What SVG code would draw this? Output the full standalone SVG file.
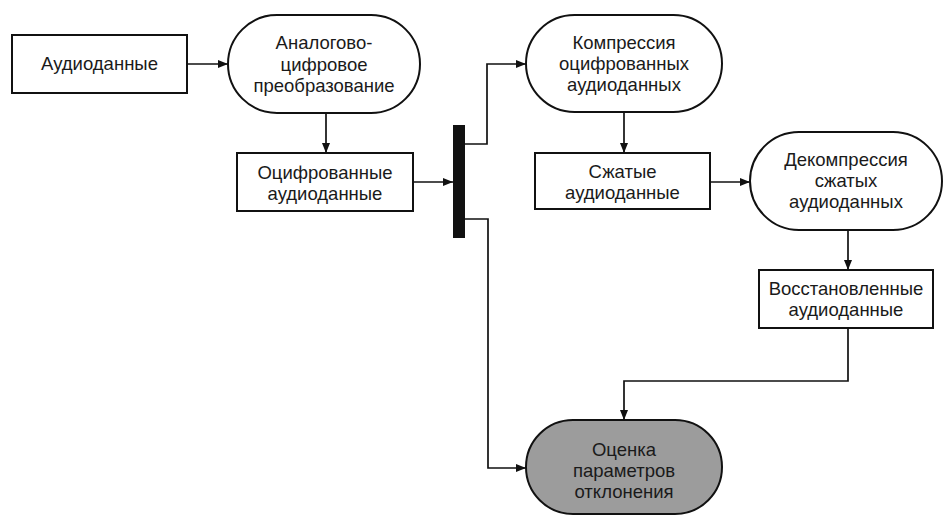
<svg xmlns="http://www.w3.org/2000/svg" width="948" height="516" viewBox="0 0 948 516">
<defs>
<marker id="ah" viewBox="0 0 10 10" refX="10" refY="5" markerWidth="10" markerHeight="10" markerUnits="userSpaceOnUse" orient="auto">
<path d="M0,1 L10,5 L0,9 Z" fill="#111"/>
</marker>
<style>
.box{fill:#fff;stroke:#111;stroke-width:2}
.gray{fill:#9c9c9c;stroke:#111;stroke-width:2}
.t{font-family:"Liberation Sans",Arial,sans-serif;font-size:18.5px;fill:#1a1a1a;text-anchor:middle}
.c{fill:none;stroke:#111;stroke-width:1.7;marker-end:url(#ah)}
</style>
</defs>
<rect width="948" height="516" fill="#fff"/>
<g id="audio">
<rect class="box" x="12" y="35" width="175" height="58"/>
<text class="t" x="99.5" y="70">Аудиоданные</text>
</g>
<g id="adc">
<rect class="box" x="228" y="15" width="192" height="98" rx="49" ry="49"/>
<text class="t" x="324" y="49">Аналогово-</text>
<text class="t" x="324" y="71">цифровое</text>
<text class="t" x="324" y="92">преобразование</text>
</g>
<g id="digital">
<rect class="box" x="237" y="153" width="176" height="58"/>
<text class="t" x="325" y="179">Оцифрованные</text>
<text class="t" x="325" y="200">аудиоданные</text>
</g>
<g id="splitter">
<rect x="453" y="125" width="12" height="113" fill="#111"/>
</g>
<g id="compress">
<rect class="box" x="526" y="15" width="196" height="97" rx="48.5" ry="48.5"/>
<text class="t" x="624" y="49">Компрессия</text>
<text class="t" x="624" y="70">оцифрованных</text>
<text class="t" x="624" y="91">аудиоданных</text>
</g>
<g id="compressed">
<rect class="box" x="535" y="153" width="175" height="56"/>
<text class="t" x="622.5" y="178">Сжатые</text>
<text class="t" x="622.5" y="199">аудиоданные</text>
</g>
<g id="decompress">
<rect class="box" x="750" y="132" width="192" height="98" rx="49" ry="49"/>
<text class="t" x="846" y="166">Декомпрессия</text>
<text class="t" x="846" y="187">сжатых</text>
<text class="t" x="846" y="208">аудиоданных</text>
</g>
<g id="restored">
<rect class="box" x="759" y="270" width="174" height="58"/>
<text class="t" x="846" y="295">Восстановленные</text>
<text class="t" x="846" y="316">аудиоданные</text>
</g>
<g id="evaluate">
<rect class="gray" x="526" y="420" width="196" height="94" rx="47" ry="47"/>
<text class="t" x="624" y="456">Оценка</text>
<text class="t" x="624" y="477">параметров</text>
<text class="t" x="624" y="498">отклонения</text>
</g>
<g id="connectors">
<path class="c" d="M187,64 H228"/>
<path class="c" d="M326,113 V153"/>
<path class="c" d="M413,182 H453"/>
<path class="c" d="M465,144 H487 V64 H526"/>
<path class="c" d="M624,112 V153"/>
<path class="c" d="M710,182 H750"/>
<path class="c" d="M848,230 V270"/>
<path class="c" d="M848,328 V381 H624 V420"/>
<path class="c" d="M465,219 H488 V468 H526"/>
</g>
</svg>
